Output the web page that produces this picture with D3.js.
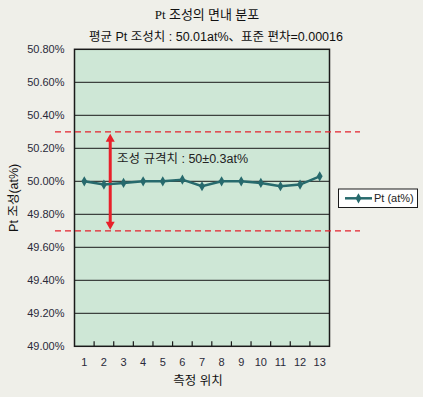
<!DOCTYPE html>
<html><head><meta charset="utf-8">
<script src="https://cdn.jsdelivr.net/npm/d3@7"></script>
<style>
html,body{margin:0;padding:0;background:#efefe9;}
svg{display:block;}
</style></head>
<body><svg id="c" width="423" height="397"></svg>
<script>
const categories = ["1","2","3","4","5","6","7","8","9","10","11","12","13"];
const ptValues = [50.00,49.98,49.99,50.00,50.00,50.01,49.97,50.00,50.00,49.99,49.97,49.98,50.03];
const yTicks = [49.0,49.2,49.4,49.6,49.8,50.0,50.2,50.4,50.6,50.8];
const specLimits = [50.3,49.7];
const titleText = "Pt 조성의 면내 분포";
const subtitleText = "평균 Pt 조성치 : 50.01at%、표준 편차=0.00016";
const annotText = "조성 규격치 : 50±0.3at%";
const xTitle = "측정 위치";
const yTitle = "Pt 조성(at%)";
const seriesName = "Pt (at%)";

const svg = d3.select("#c");
const L = 74.5, R = 329.5, T = 49.3, B = 346.3;
const x = d3.scaleBand().domain(categories).range([L, R]);
const y = d3.scaleLinear().domain([49.0, 50.8]).range([B, T]);
const sans = "'Liberation Sans', Arial, 'Noto Sans CJK KR', sans-serif";
const serif = "'Liberation Serif', 'Noto Sans CJK KR', serif";
const lineColor = "#276a6d";

svg.append("rect").attr("x", 0).attr("y", 0).attr("width", 423).attr("height", 397).attr("fill", "#efefe9");

// plot area
svg.append("rect").attr("x", L).attr("y", T).attr("width", R - L).attr("height", B - T)
  .attr("fill", "#cee7d6");

// gridlines
svg.append("g").selectAll("line").data(yTicks.slice(1, -1)).join("line")
  .attr("x1", L).attr("x2", R).attr("y1", d => y(d)).attr("y2", d => y(d))
  .attr("stroke", "#1a1a1a").attr("stroke-width", 1);

// y axis labels
const yAxis = d3.axisLeft(y).tickValues(yTicks).tickSize(0).tickPadding(10)
  .tickFormat(d => d3.format(".2f")(d) + "%");
const ya = svg.append("g").attr("transform", `translate(${L},0)`).call(yAxis);
ya.select(".domain").remove();
ya.selectAll("text").attr("font-family", sans).attr("font-size", 11).attr("fill", "#2a2a3a");

// x axis: inner ticks between categories
const xa = svg.append("g").attr("transform", `translate(0,${B})`)
  .call(d3.axisBottom(x).tickSize(0).tickPadding(12));
xa.select(".domain").remove();
xa.selectAll("text").attr("font-family", sans).attr("font-size", 11).attr("fill", "#2a2a3a");
svg.append("g").selectAll("line").data(categories.slice(1)).join("line")
  .attr("x1", d => x(d)).attr("x2", d => x(d)).attr("y1", B).attr("y2", B - 5)
  .attr("stroke", "#1a1a1a").attr("stroke-width", 1.2);

// frame
svg.append("rect").attr("x", L).attr("y", T).attr("width", R - L).attr("height", B - T)
  .attr("fill", "none").attr("stroke", "#1a1a1a").attr("stroke-width", 1.5);

// spec limit dashed lines
svg.append("g").selectAll("line").data(specLimits).join("line")
  .attr("x1", 55).attr("x2", 360).attr("y1", d => y(d)).attr("y2", d => y(d))
  .attr("stroke", "#e3222c").attr("stroke-width", 1.2).attr("stroke-dasharray", "6,4");

// double arrow
const ax = x(categories[2]) - 3.5;
const arrowTop = y(specLimits[0]) + 2, arrowBot = y(specLimits[1]) - 1;
svg.append("line").attr("x1", ax).attr("x2", ax).attr("y1", arrowTop + 6).attr("y2", arrowBot - 6)
  .attr("stroke", "#e8202a").attr("stroke-width", 3);
svg.append("path").attr("d", `M${ax},${arrowTop} L${ax - 4.5},${arrowTop + 8} L${ax + 4.5},${arrowTop + 8} Z`).attr("fill", "#e8202a");
svg.append("path").attr("d", `M${ax},${arrowBot} L${ax - 4.5},${arrowBot - 8} L${ax + 4.5},${arrowBot - 8} Z`).attr("fill", "#e8202a");

// annotation
svg.append("text").attr("x", 117).attr("y", 163).attr("font-family", sans).attr("font-size", 12.5)
  .attr("fill", "#222").text(annotText);

// series line
const line = d3.line().x((d, i) => x(categories[i]) + x.bandwidth() / 2).y(d => y(d));
svg.append("path").datum(ptValues).attr("d", line).attr("fill", "none")
  .attr("stroke", lineColor).attr("stroke-width", 2.5);
const diamond = d3.symbol().type(d3.symbolDiamond).size(30);
svg.append("g").selectAll("path").data(ptValues).join("path")
  .attr("transform", (d, i) => `translate(${x(categories[i]) + x.bandwidth() / 2},${y(d)})`)
  .attr("d", diamond).attr("fill", lineColor);

// legend
const lg = svg.append("g");
lg.append("rect").attr("x", 338.5).attr("y", 189).attr("width", 79).attr("height", 18.5)
  .attr("fill", "#ffffff").attr("stroke", "#1a1a1a").attr("stroke-width", 1);
lg.append("line").attr("x1", 345).attr("x2", 372).attr("y1", 198.3).attr("y2", 198.3)
  .attr("stroke", lineColor).attr("stroke-width", 2.5);
lg.append("path").attr("transform", "translate(358.5,198.3)").attr("d", diamond).attr("fill", lineColor);
lg.append("text").attr("x", 374).attr("y", 202.3).attr("font-family", sans).attr("font-size", 11)
  .attr("fill", "#222").text(seriesName);

// titles
svg.append("text").attr("x", 207).attr("y", 19).attr("text-anchor", "middle")
  .attr("font-family", serif).attr("font-size", 13).attr("fill", "#111").text(titleText);
svg.append("text").attr("x", 216).attr("y", 41).attr("text-anchor", "middle")
  .attr("font-family", sans).attr("font-size", 12.5).attr("fill", "#111").text(subtitleText);
svg.append("text").attr("x", 198).attr("y", 385).attr("text-anchor", "middle")
  .attr("font-family", sans).attr("font-size", 12.5).attr("fill", "#111").text(xTitle);
svg.append("text").attr("transform", `translate(18,${(T + B) / 2}) rotate(-90)`).attr("text-anchor", "middle")
  .attr("font-family", sans).attr("font-size", 12.5).attr("fill", "#111").text(yTitle);
</script></body></html>
